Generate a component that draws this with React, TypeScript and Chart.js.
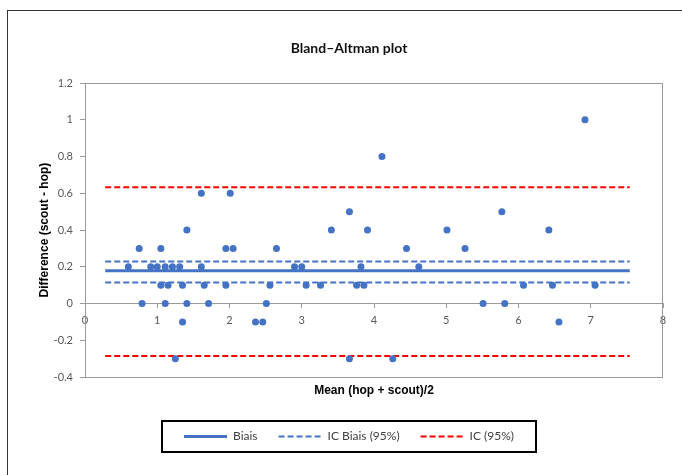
import React, { useEffect, useRef } from "react";
import { Chart, registerables } from "chart.js";

Chart.register(...registerables);

// ---- Data ----
const meanValues = [
  0.60, 0.75, 0.79, 0.91, 1.00, 1.05, 1.05, 1.11, 1.11, 1.15,
  1.21, 1.25, 1.31, 1.35, 1.35, 1.41, 1.41, 1.61, 1.61, 1.65,
  1.71, 1.95, 1.95, 2.01, 2.05, 2.36, 2.46, 2.51, 2.56, 2.65,
  2.90, 3.00, 3.06, 3.26, 3.41, 3.66, 3.66, 3.76, 3.82, 3.86,
  3.91, 4.11, 4.26, 4.45, 4.62, 5.01, 5.26, 5.51, 5.77, 5.81,
  6.07, 6.42, 6.47, 6.56, 6.92, 7.06,
];
const diffValues = [
  0.2, 0.3, 0, 0.2, 0.2, 0.3, 0.1, 0.2, 0, 0.1,
  0.2, -0.3, 0.2, 0.1, -0.1, 0.4, 0, 0.6, 0.2, 0.1,
  0, 0.3, 0.1, 0.6, 0.3, -0.1, -0.1, 0, 0.1, 0.3,
  0.2, 0.2, 0.1, 0.1, 0.4, 0.5, -0.3, 0.1, 0.2, 0.1,
  0.4, 0.8, -0.3, 0.3, 0.2, 0.4, 0.3, 0, 0.5, 0,
  0.1, 0.4, 0.1, -0.1, 1.0, 0.1,
];
const lineRange = [0.28, 7.54];
const biasValue = 0.178;
const icBiasValues = [0.229, 0.114];
const icValues = [0.633, -0.285];
const legendLabels = ["Biais", "IC Biais (95%)", "IC (95%)"];
const xTickRange = [0, 8];
const yTickRange = [-0.4, 1.2];

const BLUE = "#4472C4";
const RED = "#FF0000";
const AXIS = "#9b9b9b";

const hline = (y: number) => lineRange.map((x) => ({ x, y }));

const framePlugin = {
  id: "frameAndLegendBox",
  beforeDatasetsDraw(chart: any) {
    const { ctx, chartArea: a } = chart;
    ctx.save();
    ctx.strokeStyle = AXIS;
    ctx.lineWidth = 1;
    ctx.strokeRect(Math.round(a.left) + 0.5, Math.round(a.top) + 0.5, Math.round(a.width) - 1, Math.round(a.height));
    ctx.restore();
  },
  afterDraw(chart: any) {
    const lg = chart.legend;
    if (!lg || !lg.legendHitBoxes || !lg.legendHitBoxes.length) return;
    const boxes = lg.legendHitBoxes;
    const l = Math.min(...boxes.map((b: any) => b.left));
    const r = Math.max(...boxes.map((b: any) => b.left + b.width));
    const t = boxes[0].top;
    const h = boxes[0].height;
    const { ctx } = chart;
    ctx.save();
    ctx.strokeStyle = "#000";
    ctx.lineWidth = 2;
    ctx.strokeRect(Math.round(l - 22), Math.round(t - 9.5), Math.round(r - l + 44), Math.round(h + 19));
    ctx.restore();
  },
};

export default function App() {
  const ref = useRef<HTMLCanvasElement>(null);

  useEffect(() => {
    Chart.defaults.font.family = "Lato";
    const datasets: any[] = [
      {
        label: "points",
        data: meanValues.map((x, i) => ({ x, y: diffValues[i] })),
        backgroundColor: BLUE,
        borderWidth: 0,
        pointRadius: 3.5,
        showLine: false,
        inLegend: false,
      },
      {
        label: legendLabels[0],
        data: hline(biasValue),
        borderColor: BLUE,
        backgroundColor: BLUE,
        borderWidth: 3,
        pointRadius: 0,
        showLine: true,
        inLegend: true,
      },
      {
        label: legendLabels[1],
        data: hline(icBiasValues[0]),
        borderColor: BLUE,
        backgroundColor: BLUE,
        borderWidth: 2,
        borderDash: [6, 3],
        pointRadius: 0,
        showLine: true,
        inLegend: true,
      },
      {
        label: legendLabels[1] + " inf",
        data: hline(icBiasValues[1]),
        borderColor: BLUE,
        backgroundColor: BLUE,
        borderWidth: 2,
        borderDash: [6, 3],
        pointRadius: 0,
        showLine: true,
        inLegend: false,
      },
      {
        label: legendLabels[2],
        data: hline(icValues[0]),
        borderColor: RED,
        backgroundColor: RED,
        borderWidth: 2,
        borderDash: [6, 3],
        pointRadius: 0,
        showLine: true,
        inLegend: true,
      },
      {
        label: legendLabels[2] + " inf",
        data: hline(icValues[1]),
        borderColor: RED,
        backgroundColor: RED,
        borderWidth: 2,
        borderDash: [6, 3],
        pointRadius: 0,
        showLine: true,
        inLegend: false,
      },
    ];

    const chart = new Chart(ref.current!, {
      type: "scatter",
      data: { datasets },
      plugins: [framePlugin],
      options: {
        responsive: false,
        animation: false,
        devicePixelRatio: 1,
        layout: { padding: { left: 35, right: 19, top: 0, bottom: 22.5 } },
        plugins: {
          tooltip: { enabled: false },
          title: {
            display: true,
            text: "Bland\u2013Altman plot",
            color: "#111",
            font: { family: "Lato", weight: "bold", size: 14 },
            padding: { top: 39.6, bottom: 26.6 },
          },
          legend: {
            display: true,
            position: "bottom",
            labels: {
              usePointStyle: true,
              pointStyleWidth: 43,
              padding: 21,
              color: "#404040",
              font: { family: "Lato", size: 12 },
              generateLabels: (c: any) =>
                c.data.datasets
                  .map((ds: any, i: number) => ({
                    text: ds.label,
                    datasetIndex: i,
                    strokeStyle: ds.borderColor,
                    fillStyle: ds.borderColor,
                    lineWidth: ds.borderWidth,
                    lineDash: ds.borderDash || [],
                    pointStyle: "line",
                    hidden: false,
                    fontColor: "#404040",
                    inLegend: ds.inLegend,
                  }))
                  .filter((it: any) => it.inLegend),
            },
          },
        },
        scales: {
          x: {
            type: "linear",
            position: { y: 0 } as any,
            min: xTickRange[0],
            max: xTickRange[1],
            ticks: {
              stepSize: 1,
              color: "#595959",
              font: { family: "Lato", size: 11 },
              padding: 6,
            },
            grid: { drawOnChartArea: false, drawTicks: true, tickLength: 4, color: AXIS },
            border: { display: true, color: AXIS },
          },
          x2: {
            type: "linear",
            axis: "x",
            position: "bottom",
            display: true,
            min: xTickRange[0],
            max: xTickRange[1],
            ticks: { display: false },
            grid: { display: false, drawTicks: false },
            border: { display: false },
            title: {
              display: true,
              text: "Mean (hop + scout)/2",
              color: "#000",
              font: { family: "Liberation Sans", weight: "bold", size: 12 },
              padding: { top: 6, bottom: 12 },
            },
          },
          y: {
            type: "linear",
            position: "left",
            min: yTickRange[0],
            max: yTickRange[1],
            ticks: {
              stepSize: 0.2,
              color: "#595959",
              font: { family: "Lato", size: 11 },
              padding: 7,
              callback: (v: any) => String(Number(Number(v).toFixed(1))),
            },
            grid: { drawOnChartArea: false, drawTicks: true, tickLength: 5, color: AXIS },
            border: { display: true, color: AXIS },
            title: {
              display: true,
              text: "Difference (scout - hop)",
              color: "#000",
              font: { family: "Liberation Sans", weight: "bold", size: 12 },
              padding: { top: 2, bottom: 0 },
            },
            afterFit: (s: any) => {
              s.width = 50;
            },
          },
        },
      } as any,
    });
    return () => chart.destroy();
  }, []);

  return (
    <div
      style={{
        position: "absolute",
        left: 0,
        top: 0,
        width: 682,
        height: 475,
        overflow: "hidden",
        background: "#fff",
      }}
    >
      <div
        style={{
          position: "absolute",
          left: 7,
          top: 10,
          width: 1000,
          height: 1000,
          border: "1px solid #333",
        }}
      />
      <canvas
        ref={ref}
        width={682}
        height={475}
        style={{ position: "absolute", left: 0, top: 0, width: 682, height: 475 }}
      />
    </div>
  );
}
